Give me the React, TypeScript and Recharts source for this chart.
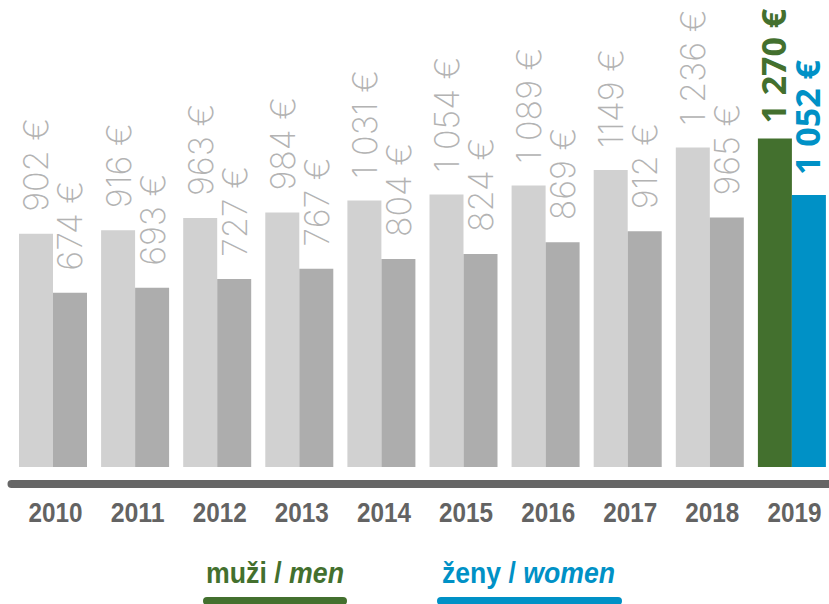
import React from 'react';
import { BarChart, Bar, XAxis, YAxis, Cell, LabelList, Legend } from 'recharts';

const years = ['2010', '2011', '2012', '2013', '2014', '2015', '2016', '2017', '2018', '2019'];
const men = [902, 916, 963, 984, 1031, 1054, 1089, 1149, 1236, 1270];
const women = [674, 693, 727, 767, 804, 824, 869, 912, 965, 1052];
const menLabels = ['902 €', '916 €', '963 €', '984 €', '1 031 €', '1 054 €', '1 089 €', '1149 €', '1 236 €', '1 270 €'];
const womenLabels = ['674 €', '693 €', '727 €', '767 €', '804 €', '824 €', '869 €', '912 €', '965 €', '1 052 €'];
const legendItems = [
  { cz: 'muži', en: 'men', color: '#43702e' },
  { cz: 'ženy', en: 'women', color: '#0091c6' },
];

const GREEN = '#43702e';
const BLUE = '#0091c6';
const LIGHT = '#d1d1d1';
const DARK = '#adadad';
const LABEL_GREY = '#b3b3b3';

const data = years.map((y, i) => ({ year: y, men: men[i], women: women[i] }));

const makeLabel = (labels: string[], accent: string, gapGrey: number, gapLast: number) => (props: any) => {
  const x = Number(props.x);
  const y = Number(props.y);
  const width = Number(props.width);
  const index = props.index as number;
  const isLast = index === labels.length - 1;
  const cx = x + width / 2;
  const tx = cx + (isLast ? 11 : 12.5);
  const ty = y - (isLast ? gapLast : gapGrey);
  return (
    <text
      x={tx}
      y={ty}
      transform={`rotate(-90 ${tx} ${ty})`}
      fill={isLast ? accent : LABEL_GREY}
      fontFamily={isLast ? "'Open Sans', Roboto, sans-serif" : "Inter, Roboto, sans-serif"}
      fontWeight={isLast ? 700 : 200}
      fontSize={isLast ? 34 : 34}
      textAnchor="start"
    >
      {labels[index]}
    </text>
  );
};

const YearTick = (props: any) => {
  const { x, y, payload } = props;
  return (
    <text
      x={Number(x) + 3}
      y={Number(y) + 30}
      textAnchor="middle"
      fill="#636363"
      fontFamily="'Liberation Sans', Arial, sans-serif"
      fontWeight={700}
      fontSize={28}
      textLength={54}
      lengthAdjust="spacingAndGlyphs"
    >
      {payload.value}
    </text>
  );
};

const legendLayout = [
  { textX: 206, textLen: 138, lineX: 203, lineW: 144 },
  { textX: 442, textLen: 173, lineX: 437, lineW: 185 },
];

const LegendContent = () => (
  <svg width={829} height={70} style={{ display: 'block' }}>
    {legendItems.map((it, i) => (
      <g key={it.en}>
        <text
          x={legendLayout[i].textX}
          y={49}
          fill={it.color}
          fontFamily="'Liberation Sans', Arial, sans-serif"
          fontWeight={700}
          fontSize={29}
          textLength={legendLayout[i].textLen}
          lengthAdjust="spacingAndGlyphs"
        >
          {it.cz} / <tspan fontStyle="italic">{it.en}</tspan>
        </text>
        <rect x={legendLayout[i].lineX} y={63} width={legendLayout[i].lineW} height={8} rx={4} fill={it.color} />
      </g>
    ))}
  </svg>
);

export default function App() {
  return (
    <div style={{ position: 'absolute', left: 0, top: 0, width: 829, height: 604, overflow: 'hidden', background: '#fff' }}>
      <BarChart
        width={840}
        height={604}
        data={data}
        margin={{ top: 105, right: 7.5, left: 11.5, bottom: 0 }}
        barCategoryGap={7.5}
        barGap={0}
      >
        <YAxis hide domain={[-66, 1400]} allowDataOverflow />
        <XAxis
          dataKey="year"
          height={50}
          tickLine={false}
          axisLine={{ stroke: '#666666', strokeWidth: 8, strokeLinecap: 'round' }}
          tick={<YearTick />}
          interval={0}
        />
        <Legend
          verticalAlign="bottom"
          content={<LegendContent />}
          wrapperStyle={{ position: 'absolute', left: 0, top: 534, width: 829, height: 70 }}
        />
        <Bar dataKey="men" isAnimationActive={false} fill={LIGHT}>
          {data.map((d, i) => (
            <Cell key={d.year} fill={i === data.length - 1 ? GREEN : LIGHT} />
          ))}
          <LabelList dataKey="men" content={makeLabel(menLabels, GREEN, 22, 15)} />
        </Bar>
        <Bar dataKey="women" isAnimationActive={false} fill={DARK}>
          {data.map((d, i) => (
            <Cell key={d.year} fill={i === data.length - 1 ? BLUE : DARK} />
          ))}
          <LabelList dataKey="women" content={makeLabel(womenLabels, BLUE, 22, 20)} />
        </Bar>
      </BarChart>
    </div>
  );
}
